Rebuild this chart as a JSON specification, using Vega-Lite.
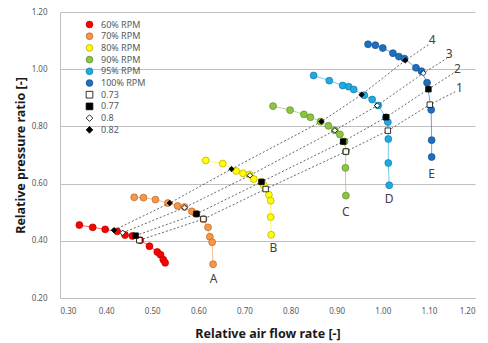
{
  "$schema": "https://vega.github.io/schema/vega-lite/v6.json",
  "width": 415,
  "height": 286,
  "autosize": "none",
  "padding": {"left": 60, "top": 12, "right": 13, "bottom": 45},
  "background": "white",
  "config": {
    "view": {"stroke": null},
    "font": "Noto Sans",
    "legend": {
      "orient": "none",
      "legendX": 25,
      "legendY": 8,
      "symbolSize": 45,
      "labelFontSize": 9,
      "labelColor": "#595959",
      "labelFont": "Noto Sans",
      "rowPadding": 0.7,
      "labelOffset": 7,
      "symbolStrokeWidth": 0.8,
      "title": null
    }
  },
  "datasets": {
    "rpm": [
      {"series": "60% RPM", "i": 1, "x": 0.342, "y": 0.455},
      {"series": "60% RPM", "i": 2, "x": 0.371, "y": 0.447},
      {"series": "60% RPM", "i": 3, "x": 0.398, "y": 0.440},
      {"series": "60% RPM", "i": 4, "x": 0.424, "y": 0.433},
      {"series": "60% RPM", "i": 5, "x": 0.441, "y": 0.420},
      {"series": "60% RPM", "i": 6, "x": 0.457, "y": 0.417},
      {"series": "60% RPM", "i": 7, "x": 0.474, "y": 0.402},
      {"series": "60% RPM", "i": 8, "x": 0.494, "y": 0.381},
      {"series": "60% RPM", "i": 9, "x": 0.511, "y": 0.361},
      {"series": "60% RPM", "i": 10, "x": 0.518, "y": 0.351},
      {"series": "60% RPM", "i": 11, "x": 0.524, "y": 0.334},
      {"series": "60% RPM", "i": 12, "x": 0.528, "y": 0.323},
      {"series": "70% RPM", "i": 1, "x": 0.461, "y": 0.552},
      {"series": "70% RPM", "i": 2, "x": 0.481, "y": 0.551},
      {"series": "70% RPM", "i": 3, "x": 0.507, "y": 0.544},
      {"series": "70% RPM", "i": 4, "x": 0.534, "y": 0.532},
      {"series": "70% RPM", "i": 5, "x": 0.555, "y": 0.522},
      {"series": "70% RPM", "i": 6, "x": 0.570, "y": 0.518},
      {"series": "70% RPM", "i": 7, "x": 0.586, "y": 0.503},
      {"series": "70% RPM", "i": 8, "x": 0.596, "y": 0.494},
      {"series": "70% RPM", "i": 9, "x": 0.611, "y": 0.476},
      {"series": "70% RPM", "i": 10, "x": 0.621, "y": 0.447},
      {"series": "70% RPM", "i": 11, "x": 0.625, "y": 0.414},
      {"series": "70% RPM", "i": 12, "x": 0.630, "y": 0.395},
      {"series": "70% RPM", "i": 13, "x": 0.632, "y": 0.318},
      {"series": "80% RPM", "i": 1, "x": 0.616, "y": 0.681},
      {"series": "80% RPM", "i": 2, "x": 0.653, "y": 0.670},
      {"series": "80% RPM", "i": 3, "x": 0.682, "y": 0.644},
      {"series": "80% RPM", "i": 4, "x": 0.697, "y": 0.636},
      {"series": "80% RPM", "i": 5, "x": 0.711, "y": 0.632},
      {"series": "80% RPM", "i": 6, "x": 0.720, "y": 0.616},
      {"series": "80% RPM", "i": 7, "x": 0.737, "y": 0.606},
      {"series": "80% RPM", "i": 8, "x": 0.742, "y": 0.594},
      {"series": "80% RPM", "i": 9, "x": 0.753, "y": 0.561},
      {"series": "80% RPM", "i": 10, "x": 0.757, "y": 0.540},
      {"series": "80% RPM", "i": 11, "x": 0.757, "y": 0.483},
      {"series": "80% RPM", "i": 12, "x": 0.758, "y": 0.421},
      {"series": "90% RPM", "i": 1, "x": 0.762, "y": 0.871},
      {"series": "90% RPM", "i": 2, "x": 0.799, "y": 0.857},
      {"series": "90% RPM", "i": 3, "x": 0.829, "y": 0.842},
      {"series": "90% RPM", "i": 4, "x": 0.843, "y": 0.832},
      {"series": "90% RPM", "i": 5, "x": 0.865, "y": 0.817},
      {"series": "90% RPM", "i": 6, "x": 0.882, "y": 0.802},
      {"series": "90% RPM", "i": 7, "x": 0.896, "y": 0.786},
      {"series": "90% RPM", "i": 8, "x": 0.907, "y": 0.772},
      {"series": "90% RPM", "i": 9, "x": 0.917, "y": 0.747},
      {"series": "90% RPM", "i": 10, "x": 0.920, "y": 0.712},
      {"series": "90% RPM", "i": 11, "x": 0.919, "y": 0.655},
      {"series": "90% RPM", "i": 12, "x": 0.920, "y": 0.558},
      {"series": "95% RPM", "i": 1, "x": 0.850, "y": 0.978},
      {"series": "95% RPM", "i": 2, "x": 0.884, "y": 0.960},
      {"series": "95% RPM", "i": 3, "x": 0.913, "y": 0.943},
      {"series": "95% RPM", "i": 4, "x": 0.926, "y": 0.939},
      {"series": "95% RPM", "i": 5, "x": 0.937, "y": 0.929},
      {"series": "95% RPM", "i": 6, "x": 0.960, "y": 0.909},
      {"series": "95% RPM", "i": 7, "x": 0.977, "y": 0.894},
      {"series": "95% RPM", "i": 8, "x": 0.990, "y": 0.873},
      {"series": "95% RPM", "i": 9, "x": 1.007, "y": 0.832},
      {"series": "95% RPM", "i": 10, "x": 1.011, "y": 0.815},
      {"series": "95% RPM", "i": 11, "x": 1.012, "y": 0.756},
      {"series": "95% RPM", "i": 12, "x": 1.012, "y": 0.672},
      {"series": "95% RPM", "i": 13, "x": 1.014, "y": 0.594},
      {"series": "100% RPM", "i": 1, "x": 0.968, "y": 1.087},
      {"series": "100% RPM", "i": 2, "x": 0.984, "y": 1.084},
      {"series": "100% RPM", "i": 3, "x": 1.000, "y": 1.074},
      {"series": "100% RPM", "i": 4, "x": 1.022, "y": 1.056},
      {"series": "100% RPM", "i": 5, "x": 1.035, "y": 1.044},
      {"series": "100% RPM", "i": 6, "x": 1.047, "y": 1.037},
      {"series": "100% RPM", "i": 7, "x": 1.072, "y": 1.005},
      {"series": "100% RPM", "i": 8, "x": 1.084, "y": 0.993},
      {"series": "100% RPM", "i": 9, "x": 1.096, "y": 0.953},
      {"series": "100% RPM", "i": 10, "x": 1.105, "y": 0.858},
      {"series": "100% RPM", "i": 11, "x": 1.106, "y": 0.752},
      {"series": "100% RPM", "i": 12, "x": 1.106, "y": 0.693}
    ],
    "effline": [
      {"line": "1", "i": 1, "x": 0.472, "y": 0.402},
      {"line": "1", "i": 2, "x": 0.611, "y": 0.476},
      {"line": "1", "i": 3, "x": 0.746, "y": 0.581},
      {"line": "1", "i": 4, "x": 0.920, "y": 0.712},
      {"line": "1", "i": 5, "x": 1.011, "y": 0.785},
      {"line": "1", "i": 6, "x": 1.102, "y": 0.876},
      {"line": "1", "i": 7, "x": 1.157, "y": 0.921},
      {"line": "2", "i": 1, "x": 0.464, "y": 0.418},
      {"line": "2", "i": 2, "x": 0.596, "y": 0.494},
      {"line": "2", "i": 3, "x": 0.737, "y": 0.606},
      {"line": "2", "i": 4, "x": 0.914, "y": 0.747},
      {"line": "2", "i": 5, "x": 1.007, "y": 0.832},
      {"line": "2", "i": 6, "x": 1.099, "y": 0.930},
      {"line": "2", "i": 7, "x": 1.155, "y": 0.988},
      {"line": "3", "i": 1, "x": 0.436, "y": 0.428},
      {"line": "3", "i": 2, "x": 0.570, "y": 0.516},
      {"line": "3", "i": 3, "x": 0.712, "y": 0.629},
      {"line": "3", "i": 4, "x": 0.896, "y": 0.786},
      {"line": "3", "i": 5, "x": 0.988, "y": 0.873},
      {"line": "3", "i": 6, "x": 1.088, "y": 0.986},
      {"line": "3", "i": 7, "x": 1.139, "y": 1.038},
      {"line": "4", "i": 1, "x": 0.417, "y": 0.437},
      {"line": "4", "i": 2, "x": 0.538, "y": 0.532},
      {"line": "4", "i": 3, "x": 0.672, "y": 0.651},
      {"line": "4", "i": 4, "x": 0.867, "y": 0.817},
      {"line": "4", "i": 5, "x": 0.954, "y": 0.911},
      {"line": "4", "i": 6, "x": 1.049, "y": 1.031},
      {"line": "4", "i": 7, "x": 1.101, "y": 1.088}
    ],
    "eff": [
      {"series": "0.73", "x": 0.472, "y": 0.402},
      {"series": "0.73", "x": 0.611, "y": 0.476},
      {"series": "0.73", "x": 0.746, "y": 0.581},
      {"series": "0.73", "x": 0.920, "y": 0.712},
      {"series": "0.73", "x": 1.011, "y": 0.785},
      {"series": "0.73", "x": 1.102, "y": 0.876},
      {"series": "0.77", "x": 0.464, "y": 0.418},
      {"series": "0.77", "x": 0.596, "y": 0.494},
      {"series": "0.77", "x": 0.737, "y": 0.606},
      {"series": "0.77", "x": 0.914, "y": 0.747},
      {"series": "0.77", "x": 1.007, "y": 0.832},
      {"series": "0.77", "x": 1.099, "y": 0.930},
      {"series": "0.8", "x": 0.436, "y": 0.428},
      {"series": "0.8", "x": 0.570, "y": 0.516},
      {"series": "0.8", "x": 0.712, "y": 0.629},
      {"series": "0.8", "x": 0.896, "y": 0.786},
      {"series": "0.8", "x": 0.988, "y": 0.873},
      {"series": "0.8", "x": 1.088, "y": 0.986},
      {"series": "0.82", "x": 0.417, "y": 0.437},
      {"series": "0.82", "x": 0.538, "y": 0.532},
      {"series": "0.82", "x": 0.672, "y": 0.651},
      {"series": "0.82", "x": 0.867, "y": 0.817},
      {"series": "0.82", "x": 0.954, "y": 0.911},
      {"series": "0.82", "x": 1.049, "y": 1.031}
    ],
    "labels": [
      {"text": "A", "x": 0.633, "y": 0.267},
      {"text": "B", "x": 0.763, "y": 0.375},
      {"text": "C", "x": 0.920, "y": 0.501},
      {"text": "D", "x": 1.014, "y": 0.546},
      {"text": "E", "x": 1.106, "y": 0.633},
      {"text": "1", "x": 1.166, "y": 0.934},
      {"text": "2", "x": 1.162, "y": 1.000},
      {"text": "3", "x": 1.144, "y": 1.053},
      {"text": "4", "x": 1.107, "y": 1.102}
    ]
  },
  "layer": [
    {
      "data": {"name": "rpm"},
      "mark": {"type": "line", "strokeWidth": 0.8, "opacity": 0.8},
      "encoding": {
        "x": {
          "field": "x", "type": "quantitative",
          "scale": {"domain": [0.3, 1.2], "nice": false, "zero": false},
          "axis": {
            "values": [0.3, 0.4, 0.5, 0.6, 0.7, 0.8, 0.9, 1.0, 1.1, 1.2],
            "format": ".2f", "grid": false, "ticks": false,
            "domainColor": "#BFBFBF", "labelFontSize": 8, "labelColor": "#595959",
            "labelPadding": 9, "labelFont": "Noto Sans",
            "title": "Relative air flow rate [-]", "titleFontSize": 12.5,
            "titleFontWeight": "bold", "titleColor": "#1a1a1a", "titlePadding": 12, "titleFont": "Noto Sans"
          }
        },
        "y": {
          "field": "y", "type": "quantitative",
          "scale": {"domain": [0.2, 1.2], "nice": false, "zero": false},
          "axis": {
            "values": [0.2, 0.3, 0.4, 0.5, 0.6, 0.7, 0.8, 0.9, 1.0, 1.1, 1.2],
            "format": ".2f", "grid": true, "gridColor": "#BFBFBF", "ticks": false,
            "domainColor": "#BFBFBF", "labelFontSize": 8, "labelColor": "#595959",
            "labelPadding": 13, "labelFont": "Noto Sans",
            "title": "Relative pressure ratio [-]", "titleFontSize": 12.5,
            "titleFontWeight": "bold", "titleColor": "#1a1a1a", "titlePadding": 4, "titleFont": "Noto Sans"
          }
        },
        "color": {
          "field": "series", "type": "nominal",
          "scale": {
            "domain": ["60% RPM", "70% RPM", "80% RPM", "90% RPM", "95% RPM", "100% RPM"],
            "range": ["#FF0000", "#F79646", "#FFFF00", "#8CC63F", "#1EAAE2", "#1F6FBF"]
          },
          "legend": null
        },
        "order": {"field": "i", "type": "quantitative"}
      }
    },
    {
      "data": {"name": "rpm"},
      "mark": {"type": "point", "filled": true, "size": 48, "strokeWidth": 0.7, "opacity": 1},
      "encoding": {
        "x": {"field": "x", "type": "quantitative"},
        "y": {"field": "y", "type": "quantitative"},
        "fill": {
          "field": "series", "type": "nominal",
          "scale": {
            "domain": ["60% RPM", "70% RPM", "80% RPM", "90% RPM", "95% RPM", "100% RPM", "0.73", "0.77", "0.8", "0.82"],
            "range": ["#FF0000", "#F79646", "#FFFF00", "#8CC63F", "#1EAAE2", "#1F6FBF", "#FFFFFF", "#000000", "#FFFFFF", "#000000"]
          }
        },
        "stroke": {
          "field": "series", "type": "nominal",
          "scale": {
            "domain": ["60% RPM", "70% RPM", "80% RPM", "90% RPM", "95% RPM", "100% RPM", "0.73", "0.77", "0.8", "0.82"],
            "range": ["#B00000", "#B8672A", "#B8A800", "#5E8A2A", "#127AA8", "#164F8C", "#000000", "#000000", "#000000", "#000000"]
          }
        },
        "shape": {
          "field": "series", "type": "nominal",
          "scale": {
            "domain": ["60% RPM", "70% RPM", "80% RPM", "90% RPM", "95% RPM", "100% RPM", "0.73", "0.77", "0.8", "0.82"],
            "range": ["circle", "circle", "circle", "circle", "circle", "circle", "square", "square", "diamond", "diamond"]
          }
        }
      }
    },
    {
      "data": {"name": "effline"},
      "mark": {"type": "line", "strokeDash": [2, 2], "strokeWidth": 0.8, "color": "#404040"},
      "encoding": {
        "x": {"field": "x", "type": "quantitative"},
        "y": {"field": "y", "type": "quantitative"},
        "detail": {"field": "line", "type": "nominal"},
        "order": {"field": "i", "type": "quantitative"}
      }
    },
    {
      "data": {"name": "eff"},
      "mark": {"type": "point", "filled": true, "size": 30, "strokeWidth": 0.8, "opacity": 1},
      "encoding": {
        "x": {"field": "x", "type": "quantitative"},
        "y": {"field": "y", "type": "quantitative"},
        "fill": {"field": "series", "type": "nominal"},
        "stroke": {"field": "series", "type": "nominal"},
        "shape": {"field": "series", "type": "nominal"}
      }
    },
    {
      "data": {"name": "labels"},
      "mark": {"type": "text", "fontSize": 12, "color": "#404040", "font": "Noto Sans", "align": "center", "baseline": "middle"},
      "encoding": {
        "x": {"field": "x", "type": "quantitative"},
        "y": {"field": "y", "type": "quantitative"},
        "text": {"field": "text", "type": "nominal"}
      }
    }
  ]
}
